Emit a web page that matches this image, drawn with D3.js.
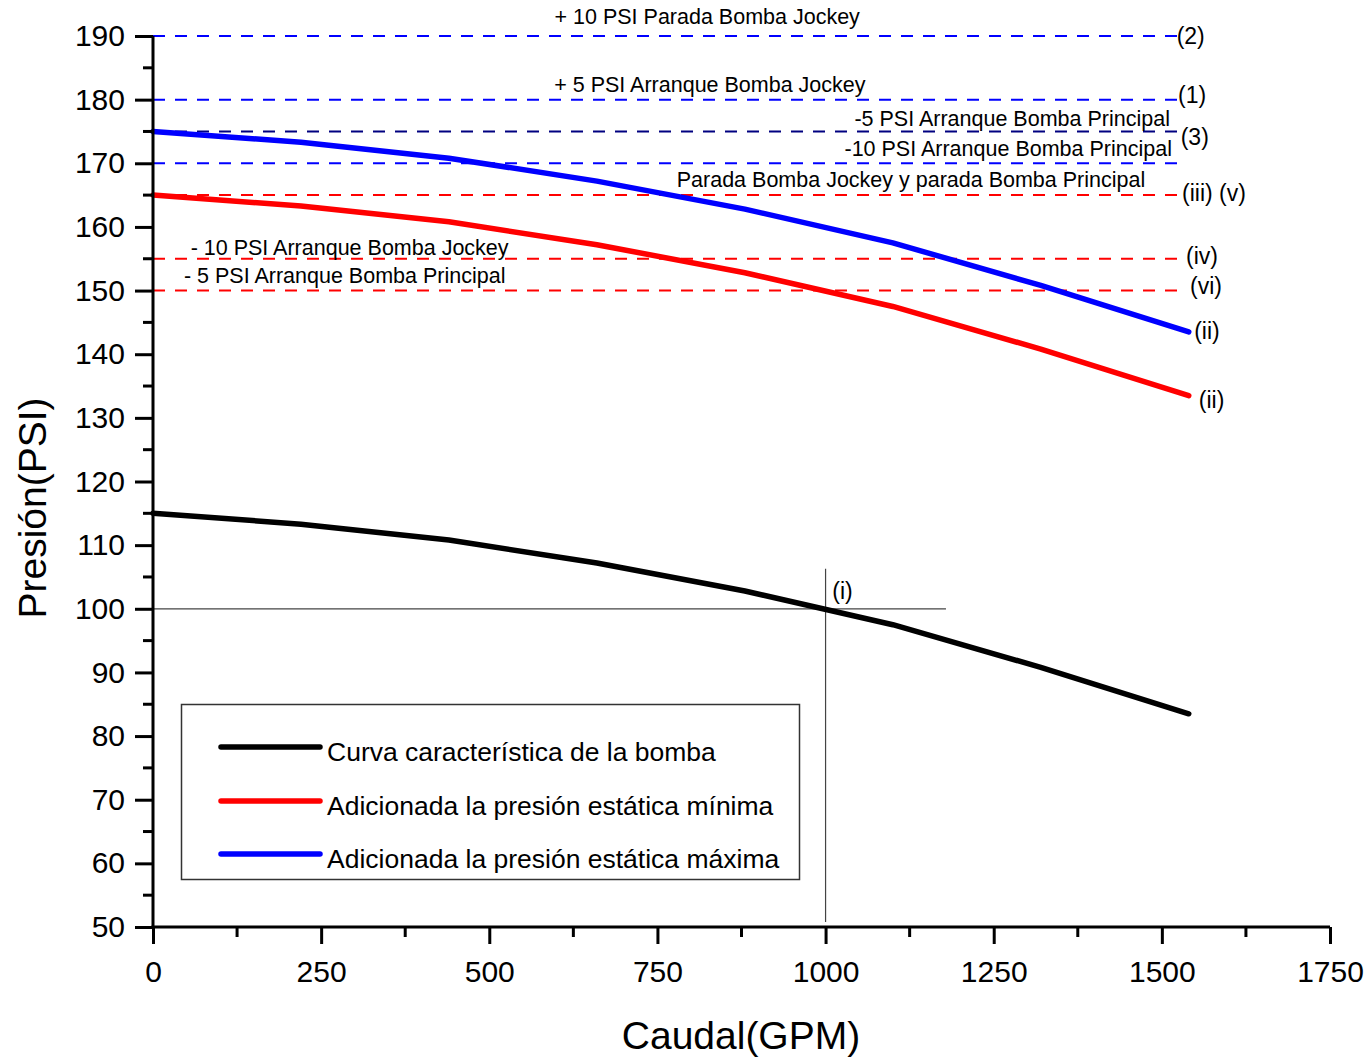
<!DOCTYPE html>
<html><head><meta charset="utf-8">
<script src="https://cdn.jsdelivr.net/npm/d3@7"></script>
<style>body{margin:0;background:#fff}svg{display:block;font-family:"Liberation Sans",Arial,sans-serif}</style>
</head><body><svg id="c" width="1372" height="1057"></svg>
<script>
// ---- data ----
const flow = [0, 220, 440, 660, 880, 1100, 1320, 1540];
const pumpCurve = [115, 113.3, 110.8, 107.2, 102.8, 97.5, 90.8, 83.5];
const minStatic = [165, 163.3, 160.8, 157.2, 152.8, 147.5, 140.8, 133.5];
const maxStatic = [175, 173.3, 170.8, 167.2, 162.8, 157.5, 150.8, 143.5];
const seriesNames = ["Curva característica de la bomba","Adicionada la presión estática mínima","Adicionada la presión estática máxima"];
const refLevels = [190, 180, 175, 170, 165, 155, 150];
const refLevelEnd = 1525;
const refLevelColors = ["#0000ff","#0000ff","#000080","#0000ff","#ff0000","#ff0000","#ff0000"];
const xTicks = [0, 250, 500, 750, 1000, 1250, 1500, 1750];
const yTicks = [50,60,70,80,90,100,110,120,130,140,150,160,170,180,190];
const opPoint = [1000, 100];
const levelTexts = ["+ 10 PSI Parada Bomba Jockey","+ 5 PSI Arranque Bomba Jockey","-5 PSI Arranque Bomba Principal","-10 PSI Arranque Bomba Principal","Parada Bomba Jockey y parada Bomba Principal","- 10 PSI Arranque Bomba Jockey","- 5 PSI Arranque Bomba Principal"];
const levelTextPos = [[824,191.9,"middle"],[828,181.2,"middle"],[1512,175.9,"end"],[1515,171.2,"end"],[1127,166.3,"middle"],[56,155.6,"start"],[46,151.2,"start"]];
const tagTexts = ["(2)","(1)","(3)","(iii) (v)","(iv)","(vi)","(ii)","(ii)","(i)"];
const tagPos = [[1522,188.7],[1524,179.5],[1528,172.9],[1530,164.1],[1536,154.2],[1542,149.5],[1548,142.4],[1555,131.6],[1010,101.5]];

// ---- layout ----
const svg = d3.select("#c");
const L = 153, R = 1330, T = 36, B = 927;
const x = d3.scaleLinear().domain([0,1750]).range([L,R]);
const y = d3.scaleLinear().domain([50,190]).range([B,T]);

// reference dashed lines
svg.append("g").selectAll("line").data(refLevels).join("line")
  .attr("x1", x(0)).attr("x2", x(refLevelEnd))
  .attr("y1", d=>y(d)).attr("y2", d=>y(d))
  .attr("stroke", (d,i)=>refLevelColors[i]).attr("stroke-width",2)
  .attr("stroke-dasharray","12,10");

// operating point crosshair
svg.append("line").attr("x1",x(0)).attr("x2",x(1179)).attr("y1",y(opPoint[1])).attr("y2",y(opPoint[1]))
  .attr("stroke","#444").attr("stroke-width",1.2);
svg.append("line").attr("x1",x(opPoint[0])).attr("x2",x(opPoint[0])).attr("y1",y(106.3)).attr("y2",y(50.8))
  .attr("stroke","#444").attr("stroke-width",1.2);

// curves
const line = d3.line().x((d,i)=>x(flow[i])).y(d=>y(d));
const curveColors = ["#000000","#ff0000","#0000ff"];
[pumpCurve, minStatic, maxStatic].forEach((s,k)=>{
  svg.append("path").attr("d", line(s)).attr("fill","none")
    .attr("stroke", curveColors[k]).attr("stroke-width",5.5)
    .attr("stroke-linecap","round").attr("stroke-linejoin","round");
});

// level texts
svg.append("g").selectAll("text").data(levelTexts).join("text")
  .attr("x",(d,i)=>x(levelTextPos[i][0])).attr("y",(d,i)=>y(levelTextPos[i][1]))
  .attr("text-anchor",(d,i)=>levelTextPos[i][2])
  .attr("font-size",21.5).attr("fill","#000").text(d=>d);

// tags
svg.append("g").selectAll("text").data(tagTexts).join("text")
  .attr("x",(d,i)=>x(tagPos[i][0])).attr("y",(d,i)=>y(tagPos[i][1]))
  .attr("font-size",23).attr("fill","#000").text(d=>d);

// axes
const yAxis = d3.axisLeft(y).tickValues(yTicks).tickSize(18).tickPadding(10).tickFormat(d3.format("d"));
const gy = svg.append("g").attr("transform",`translate(${L},0)`).call(yAxis);
gy.select(".domain").attr("stroke-width",3).attr("d",`M0,${B+1.5}V${T}`);
gy.selectAll(".tick line").attr("stroke-width",3);
gy.selectAll(".tick text").attr("font-size",30).attr("font-family","Liberation Sans, Arial").attr("fill","#000");
const yMinor = d3.range(55,190,10);
gy.selectAll(".minor").data(yMinor).join("line").attr("class","minor")
  .attr("x1",-10).attr("x2",0).attr("y1",d=>y(d)).attr("y2",d=>y(d))
  .attr("stroke","#000").attr("stroke-width",3);

const xAxis = d3.axisBottom(x).tickValues(xTicks).tickSize(17).tickPadding(17).tickFormat(d3.format("d"));
const gx = svg.append("g").attr("transform",`translate(0,${B})`).call(xAxis);
gx.select(".domain").attr("stroke-width",3).attr("d",`M${L-1.5},0H${R}`);
gx.selectAll(".tick line").attr("stroke-width",3);
gx.selectAll(".tick text").attr("font-size",30).attr("font-family","Liberation Sans, Arial").attr("fill","#000");
const xMinor = d3.range(125,1750,250);
gx.selectAll(".minor").data(xMinor).join("line").attr("class","minor")
  .attr("x1",d=>x(d)).attr("x2",d=>x(d)).attr("y1",0).attr("y2",10)
  .attr("stroke","#000").attr("stroke-width",3);

// axis titles
svg.append("text").attr("x",741).attr("y",1049).attr("text-anchor","middle")
  .attr("font-size",39).text("Caudal(GPM)");
svg.append("text").attr("transform","translate(46,508) rotate(-90)").attr("text-anchor","middle")
  .attr("font-size",39).text("Presión(PSI)");

// legend
const lg = svg.append("g");
lg.append("rect").attr("x",181.5).attr("y",704.5).attr("width",618).attr("height",175)
  .attr("fill","#fff").attr("stroke","#333").attr("stroke-width",1.5);
const legY = [747, 801, 854];
seriesNames.forEach((n,k)=>{
  lg.append("line").attr("x1",221).attr("x2",320).attr("y1",legY[k]).attr("y2",legY[k])
    .attr("stroke",curveColors[k]).attr("stroke-width",5.5).attr("stroke-linecap","round");
  lg.append("text").attr("x",327).attr("y",legY[k]+14).attr("font-size",26.5).text(n);
});
</script></body></html>
